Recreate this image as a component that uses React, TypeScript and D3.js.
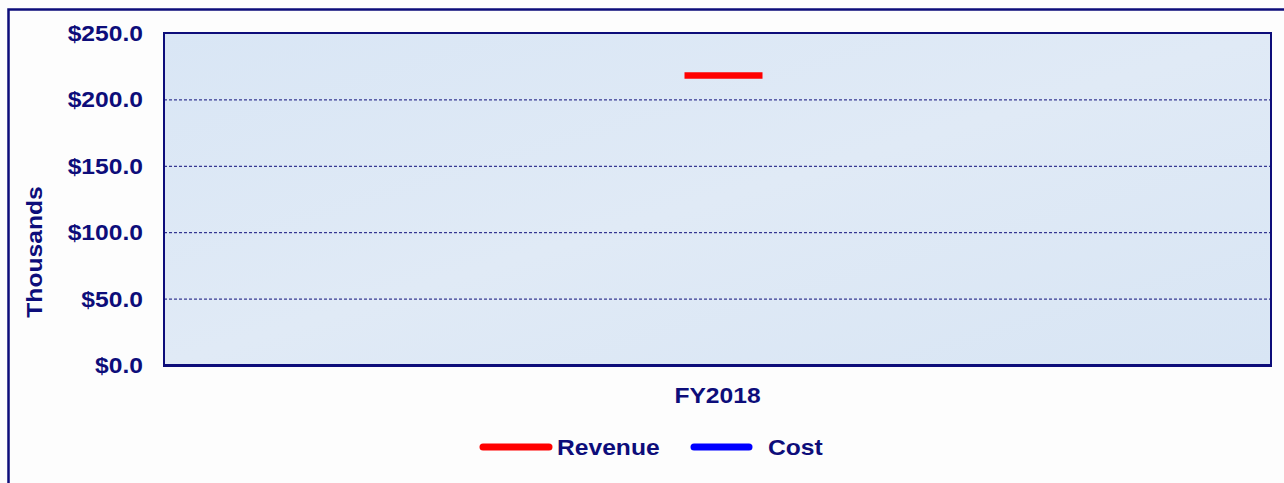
import React, { useRef, useEffect } from 'react';
import * as d3 from 'd3';

// chart data
const categories = ['FY2018'];
const revenue: (number | null)[] = [218];
const cost: (number | null)[] = [null];
const yTicks = [0, 50, 100, 150, 200, 250];
const legendItems = [
    { name: 'Revenue', color: '#ff0000' },
    { name: 'Cost', color: '#0000ff' },
];

const NAVY = '#0d0d7a';
const FONT = 'Arial, "Liberation Sans", sans-serif';
const SX = 1.12; // the original text is a bit wider than Arial

const App = () => {
    const svgRef = useRef<SVGSVGElement>(null);
    const width = 1284;
    const height = 483;

    useEffect(() => {
        const svg = d3.select(svgRef.current);
        svg.selectAll('*').remove();

        const margin = { top: 33, right: 13, bottom: 118, left: 164 };
        const chartWidth = width - margin.left - margin.right;
        const chartHeight = height - margin.top - margin.bottom;

        // page background + outer frame
        svg.append('rect')
            .attr('x', 0).attr('y', 0)
            .attr('width', width).attr('height', height)
            .attr('fill', '#fdfdfd');
        svg.append('rect')
            .attr('x', 8.5).attr('y', 9.5)
            .attr('width', width + 10).attr('height', height + 10)
            .attr('fill', 'none')
            .attr('stroke', NAVY)
            .attr('stroke-width', 2.5);

        const x = d3.scaleBand()
            .domain(categories)
            .range([0, chartWidth])
            .padding(0);

        const y = d3.scaleLinear()
            .domain([0, 250])
            .range([chartHeight, 0]);

        const chart = svg.append('g')
            .attr('transform', `translate(${margin.left},${margin.top})`);

        // plot background
        const defs = svg.append('defs');
        const grad = defs.append('linearGradient')
            .attr('id', 'plotbg')
            .attr('x1', '0').attr('y1', '0').attr('x2', '1').attr('y2', '1');
        grad.append('stop').attr('offset', '0%').attr('stop-color', '#d9e6f5');
        grad.append('stop').attr('offset', '50%').attr('stop-color', '#e0eaf6');
        grad.append('stop').attr('offset', '100%').attr('stop-color', '#d8e5f4');

        chart.append('rect')
            .attr('width', chartWidth)
            .attr('height', chartHeight)
            .attr('fill', 'url(#plotbg)');

        // gridlines
        chart.selectAll('.grid')
            .data(yTicks.filter(t => t > 0 && t < 250))
            .enter()
            .append('line')
            .attr('class', 'grid')
            .attr('x1', 0).attr('x2', chartWidth)
            .attr('y1', d => y(d) + 0.5).attr('y2', d => y(d) + 0.5)
            .attr('stroke', NAVY)
            .attr('stroke-width', 1)
            .attr('stroke-dasharray', '3,2');

        // plot frame
        chart.append('rect')
            .attr('width', chartWidth)
            .attr('height', chartHeight)
            .attr('fill', 'none')
            .attr('stroke', NAVY)
            .attr('stroke-width', 2);
        chart.append('line')
            .attr('x1', -1).attr('x2', chartWidth + 1)
            .attr('y1', chartHeight + 0.5).attr('y2', chartHeight + 0.5)
            .attr('stroke', NAVY)
            .attr('stroke-width', 3);

        // y tick labels
        chart.selectAll('.ytick')
            .data(yTicks)
            .enter()
            .append('g')
            .attr('transform', d => `translate(-21,${y(d)}) scale(${SX},1)`)
            .append('text')
            .attr('text-anchor', 'end')
            .attr('dy', '0.36em')
            .attr('font-family', FONT)
            .attr('font-weight', 'bold')
            .attr('font-size', 22)
            .attr('fill', NAVY)
            .text(d => '$' + d3.format('.1f')(d));

        // y axis title
        svg.append('g')
            .attr('transform', `translate(42,${252}) rotate(-90) scale(${SX},1)`)
            .append('text')
            .attr('text-anchor', 'middle')
            .attr('font-family', FONT)
            .attr('font-weight', 'bold')
            .attr('font-size', 22)
            .attr('fill', NAVY)
            .text('Thousands');

        // x labels
        chart.selectAll('.xlabel')
            .data(categories)
            .enter()
            .append('g')
            .attr('transform', d => `translate(${x(d)! + x.bandwidth() / 2},${chartHeight + 38}) scale(${SX},1)`)
            .append('text')
            .attr('text-anchor', 'middle')
            .attr('font-family', FONT)
            .attr('font-weight', 'bold')
            .attr('font-size', 22)
            .attr('fill', NAVY)
            .text(d => d);

        // single-point series shown as dash markers
        const dashW = 78;
        const drawSeries = (vals: (number | null)[], color: string) => {
            chart.selectAll(null)
                .data(categories.map((c, i) => ({ c, v: vals[i] })).filter(d => d.v != null))
                .enter()
                .append('line')
                .attr('x1', d => x(d.c)! + x.bandwidth() / 2 - dashW / 2 + 6)
                .attr('x2', d => x(d.c)! + x.bandwidth() / 2 + dashW / 2 + 6)
                .attr('y1', d => y(d.v as number))
                .attr('y2', d => y(d.v as number))
                .attr('stroke', color)
                .attr('stroke-width', 6.5);
        };
        drawSeries(revenue, legendItems[0].color);
        drawSeries(cost, legendItems[1].color);

        // legend
        const legend = svg.append('g').attr('transform', 'translate(0,447)');
        const legendX = [483, 694];
        legendItems.forEach((item, i) => {
            const g = legend.append('g').attr('transform', `translate(${legendX[i]},0)`);
            g.append('line')
                .attr('x1', 0).attr('x2', i === 0 ? 66 : 55)
                .attr('y1', 0).attr('y2', 0)
                .attr('stroke', item.color)
                .attr('stroke-width', 7)
                .attr('stroke-linecap', 'round');
            g.append('g')
                .attr('transform', `translate(74,0) scale(${SX},1)`)
                .append('text')
                .attr('dy', '0.36em')
                .attr('font-family', FONT)
                .attr('font-weight', 'bold')
                .attr('font-size', 22)
                .attr('fill', NAVY)
                .text(item.name);
        });
    }, []);

    return (
        <svg ref={svgRef} width={width} height={height}
            style={{ position: 'absolute', left: 0, top: 0, display: 'block' }} />
    );
};

export default App;
